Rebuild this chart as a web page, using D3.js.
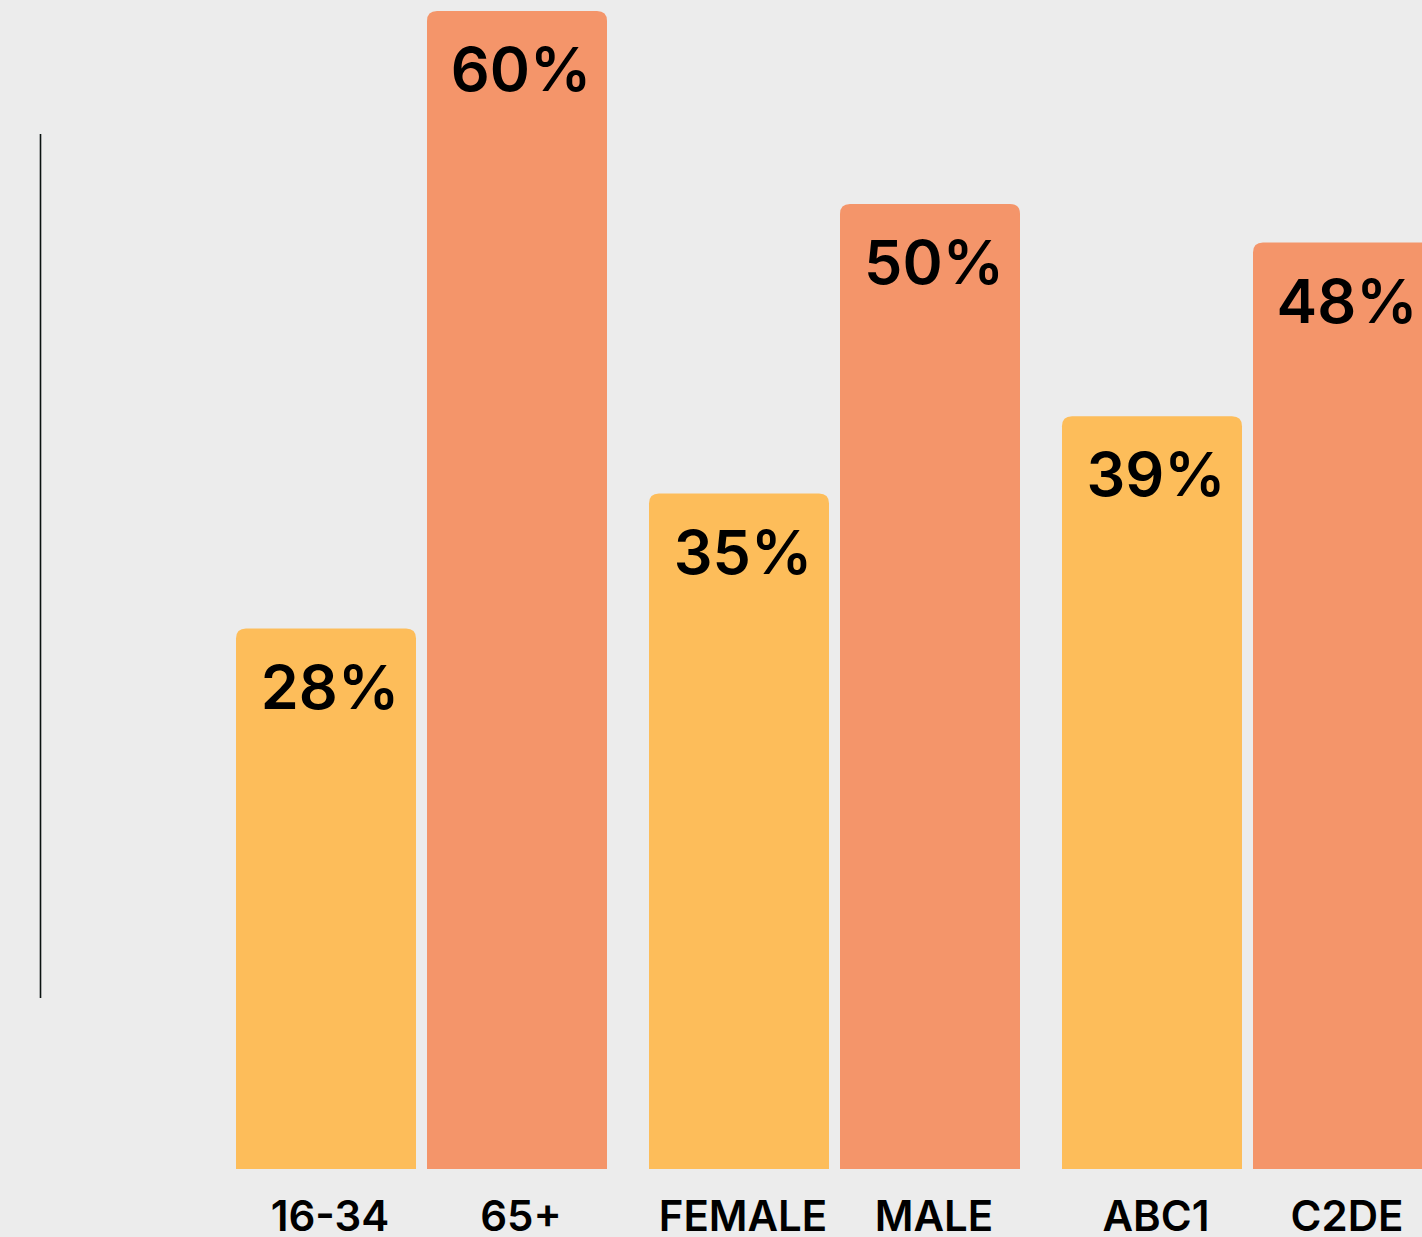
<!DOCTYPE html>
<html>
  <head>
    <script src="https://d3js.org/d3.v7.min.js"></script>
    <style>
      body { margin: 0; background: #ececec; }
      svg { display: block; }
      .val { font: 600 61px Inter, sans-serif; fill: #000; text-anchor: middle; }
      .cat { font: 600 42px Inter, sans-serif; fill: #000; text-anchor: middle; }
    </style>
    <title>Bar chart</title>
  </head>
  <body>
    <svg id="chart"></svg>
    <script>
      var groups = ["age", "gender", "class"];
      var series = ["a", "b"];
      var categories = [["16-34", "65+"], ["FEMALE", "MALE"], ["ABC1", "C2DE"]];
      var values = [[28, 60], [35, 50], [39, 48]];
      var colors = ["#fdbd5a", "#f4956a"];

      var width = 1422, height = 1237;
      var svg = d3.select("#chart").attr("width", width).attr("height", height);

      var y = d3.scaleLinear().domain([0, 60]).range([1169, 11]);
      var x0 = d3.scaleBand().domain(groups).range([236, 1433]).paddingInner(42 / 413);
      var x1 = d3.scaleBand().domain(series).range([0, x0.bandwidth()]).paddingInner(11 / 191);

      // left rule
      svg.append("line").attr("x1", 40.5).attr("x2", 40.5).attr("y1", 134).attr("y2", 998)
        .attr("stroke", "#0b1311").attr("stroke-width", 1.6);

      var data = [];
      groups.forEach(function(g, i) {
        series.forEach(function(s, j) {
          data.push({ g: g, s: s, i: j, v: values[i][j], label: categories[i][j] });
        });
      });

      var r = 10;
      function barPath(d) {
        var x = x0(d.g) + x1(d.s), w = x1.bandwidth(), t = y(d.v), b = y(0);
        return "M" + x + "," + b + "V" + (t + r) + "Q" + x + "," + t + " " + (x + r) + "," + t +
          "H" + (x + w - r) + "Q" + (x + w) + "," + t + " " + (x + w) + "," + (t + r) + "V" + b + "Z";
      }
      function mid(d) { return x0(d.g) + x1(d.s) + x1.bandwidth() / 2 + 4; }

      var bar = svg.selectAll("g.bar").data(data).enter().append("g").attr("class", "bar");

      bar.append("path").attr("d", barPath).attr("fill", function(d) { return colors[d.i]; });

      bar.append("text").attr("class", "val")
        .attr("x", mid)
        .attr("y", function(d) { return y(d.v) + 80; })
        .text(function(d) { return d.v + "%"; });

      bar.append("text").attr("class", "cat")
        .attr("x", mid)
        .attr("y", 1231)
        .text(function(d) { return d.label; });
    </script>
  </body>
</html>
